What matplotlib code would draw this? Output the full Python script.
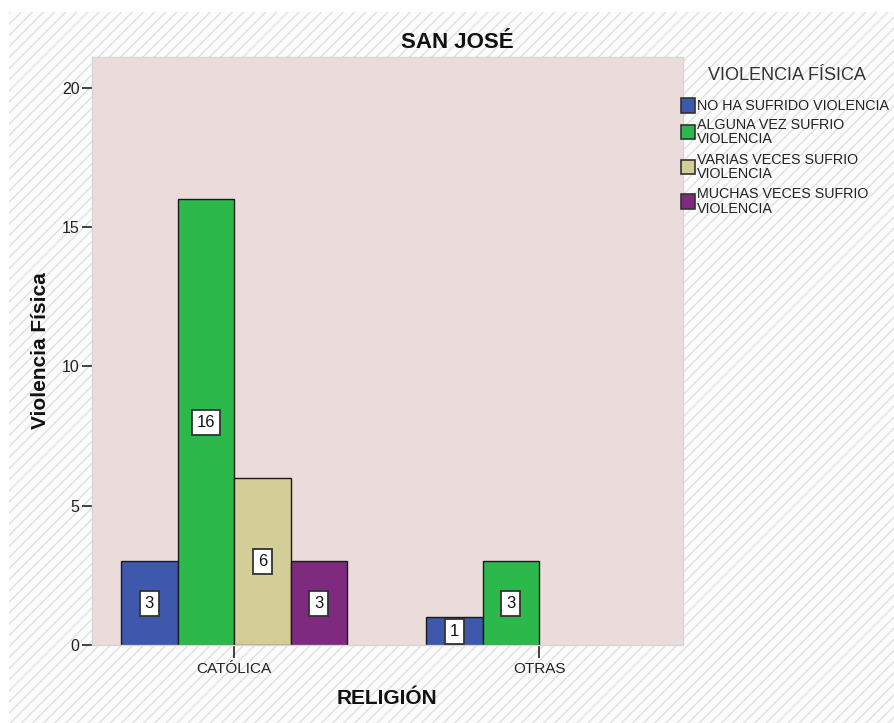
import matplotlib
matplotlib.use("Agg")
import matplotlib.pyplot as plt
from matplotlib.patches import Rectangle
import numpy as np

plt.rcParams['font.family'] = ['Liberation Sans', 'DejaVu Sans']

categories = ['CATÓLICA', 'OTRAS']
series_names = ['NO HA SUFRIDO VIOLENCIA', 'ALGUNA VEZ SUFRIO\nVIOLENCIA',
                'VARIAS VECES SUFRIO\nVIOLENCIA', 'MUCHAS VECES SUFRIO\nVIOLENCIA']
values = {
    'NO HA SUFRIDO VIOLENCIA': [3, 1],
    'ALGUNA VEZ SUFRIO\nVIOLENCIA': [16, 3],
    'VARIAS VECES SUFRIO\nVIOLENCIA': [6, 0],
    'MUCHAS VECES SUFRIO\nVIOLENCIA': [3, 0],
}
colors = ['#3E58AC', '#2DB84B', '#D3CE97', '#7E2A7E']
yticks = [0, 5, 10, 15, 20]

W, H = 894, 723
fig = plt.figure(figsize=(W / 100, H / 100), dpi=100)
fig.patch.set_facecolor('white')

# hatched outer frame
bg = Rectangle((9 / W, 0), 1 - 9 / W, 1 - 12 / H, transform=fig.transFigure,
               facecolor='#fcfcfc', edgecolor='#e0e0e0', hatch='///', linewidth=0, zorder=-5)
fig.patches.append(bg)

ax = fig.add_axes([92 / W, (H - 645) / H, (683 - 92) / W, (645 - 57) / H])
ax.set_zorder(2)
ax.set_facecolor('#EBDCDC')

x = np.arange(len(categories))
w = 56.5 / 305
n = len(series_names)
for i, (name, col) in enumerate(zip(series_names, colors)):
    vals = values[name]
    pos = x + (i - (n - 1) / 2) * w
    lws = [1 if v > 0 else 0 for v in vals]
    ax.bar(pos, vals, width=w, color=col, edgecolor='#1a1a1a', linewidth=lws, zorder=2)
    for px, v in zip(pos, vals):
        if v > 0:
            ax.text(px, v / 2, str(v), ha='center', va='center', fontsize=12, color='#111111',
                    zorder=4,
                    bbox=dict(boxstyle='square,pad=0.3', fc='white', ec='#333333', lw=1.3))

ax.set_xlim(-0.466, 1.472)
ax.set_ylim(0, 21.11)
ax.set_xticks(x)
ax.set_xticklabels(categories, fontsize=11, color='#222222')
ax.set_yticks(yticks)
ax.set_yticklabels([str(t) for t in yticks], fontsize=11.5, color='#222222')
ax.tick_params(axis='y', length=7, width=1.2, pad=2, color='#222222')
ax.tick_params(axis='x', length=9, width=1.2, pad=3, color='#222222')
for s in ax.spines.values():
    s.set_color('#d6d6d6')
    s.set_linewidth(1)

fig.text(457 / W, 1 - 43 / H, 'SAN JOSÉ', ha='center', va='center', fontsize=16,
         fontweight='bold', color='#111111')
fig.text(387 / W, 1 - 698 / H, 'RELIGIÓN', ha='center', va='center', fontsize=15,
         fontweight='bold', color='#111111')
fig.text(41 / W, 1 - 351 / H, 'Violencia Física', ha='center', va='center', fontsize=15,
         fontweight='bold', color='#111111', rotation=90)

# legend
fig.text(787 / W, 1 - 76 / H, 'VIOLENCIA FÍSICA', ha='center', va='center', fontsize=13,
         color='#333333')
leg_centers = [105.5, 132, 167, 201.5]
for name, col, cy in zip(series_names, colors, leg_centers):
    fig.patches.append(Rectangle((681 / W, 1 - (cy + 7) / H), 14 / W, 14 / H,
                                 transform=fig.transFigure, facecolor=col,
                                 edgecolor='#333333', linewidth=1.2, zorder=3))
    fig.text(697 / W, 1 - cy / H, name, ha='left', va='center', fontsize=10.3,
             color='#222222', linespacing=1.08)

fig.savefig('out.png', dpi=100)
